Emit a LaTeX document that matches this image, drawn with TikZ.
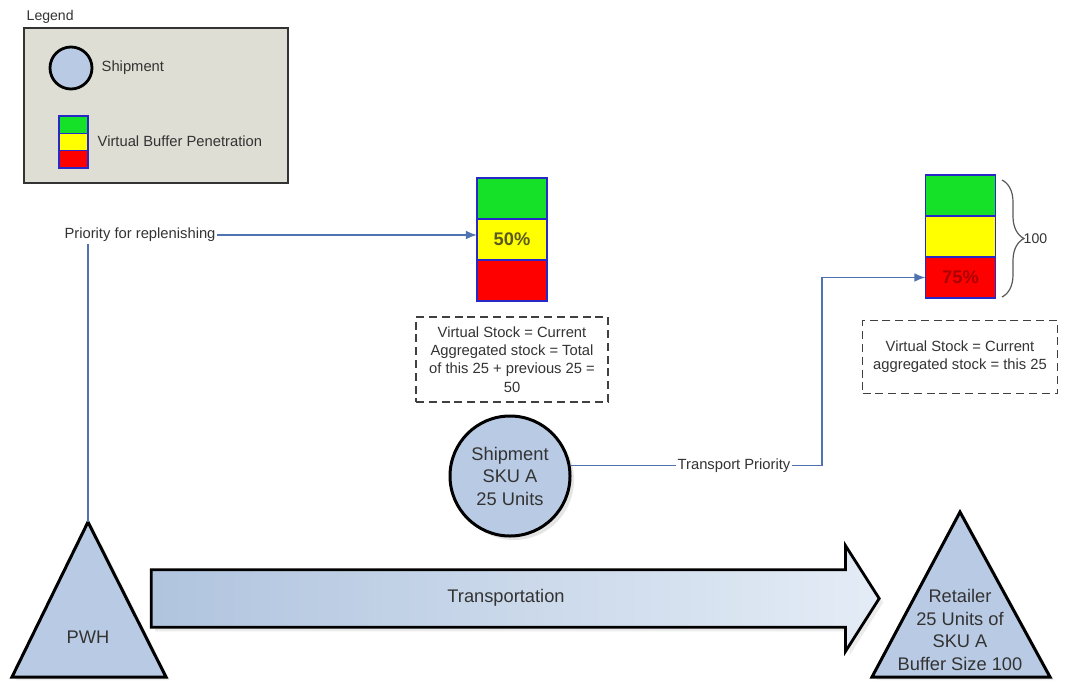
\documentclass[tikz,border=0pt]{standalone}
\usepackage{fontspec}
\setmainfont{Liberation Sans}
\usetikzlibrary{positioning, chains, shapes.arrows, shadows}
\usetikzlibrary{decorations.pathreplacing}
\usetikzlibrary{arrows.meta}
\tikzset{>={Latex[width=2.2mm,length=2.8mm]}}
\definecolor{bufgreen}{RGB}{20,225,40}
\definecolor{bufyellow}{RGB}{255,255,0}
\definecolor{bufred}{RGB}{255,0,0}
\definecolor{bufline}{RGB}{40,40,200}
\definecolor{linkblue}{RGB}{79,115,175}
\definecolor{shipblue}{RGB}{185,203,228}
\definecolor{legendgrey}{RGB}{222,222,212}
\definecolor{pctolive}{RGB}{90,90,30}
\definecolor{pctred}{RGB}{170,0,0}
\definecolor{arrowleft}{RGB}{176,196,222}
\definecolor{arrowright}{RGB}{228,236,246}

\begin{document}
\begin{tikzpicture}[
    x = 0.25mm, y = -0.25mm,
    node distance = 0mm,
    txt/.style = {font=\fontsize{10.5}{13}\selectfont, text=black!80, inner sep=1pt},
    big/.style = {font=\fontsize{13}{16}\selectfont, text=black!80, align=center},
    pct/.style = {font=\fontsize{13}{16}\selectfont\bfseries},
    cell/.style = {draw=bufline, line width=0.45mm, minimum width=17.5mm,
        minimum height=10.25mm, inner sep=0mm, outer sep=0mm, on chain},
    mini/.style = {cell, minimum width=7.25mm, minimum height=4.33mm, line width=0.35mm},
    link/.style = {draw=linkblue, line width=0.4mm},
    note/.style = {draw=black!75, line width=0.35mm, dash pattern=on 2mm off 1.2mm,
        txt, align=center, inner sep=0mm},
    tri/.style = {draw=black, line width=0.75mm, fill=shipblue, line join=miter,
        drop shadow={opacity=0.15, shadow xshift=1mm, shadow yshift=-0.8mm}}
  ]
  \path[use as bounding box, fill=white] (0,0) rectangle (1065,688);

  % legend
  \node[txt, font=\fontsize{10}{12}\selectfont, anchor=west] (legendlbl) at (25,17) {Legend};
  \node[draw=black!80, line width=0.5mm, fill=legendgrey, minimum width=66mm,
    minimum height=38.75mm] (legend) at (156,105.5) {};
  \node[circle, draw=black, line width=0.7mm, fill=shipblue, minimum size=10.5mm] (legship) at (71,68) {};
  \node[txt, anchor=west] (legshiplbl) at (100,68) {Shipment};
  \begin{scope}[shift={(73.5,124.7)}, start chain=leg going below]
    \foreach \c in {bufgreen, bufyellow, bufred}
    \node[mini, fill=\c] {};
  \end{scope}
  \node[txt, anchor=west] (legbuflbl) at (96,141) {Virtual Buffer Penetration};

  % buffers
  \begin{scope}[shift={(512,198.5)}, start chain=mid going below]
    \foreach \c in {bufgreen, bufyellow, bufred}
    \node[cell, fill=\c] {};
  \end{scope}
  \node[pct, text=pctolive] (midpct) at (mid-2) {50\%};
  \node[note, minimum width=48mm, minimum height=21.25mm] (midnote) at (512,359.5)
    {Virtual Stock = Current\\Aggregated stock = Total\\of this 25 + previous 25 =\\50};

  \begin{scope}[shift={(960.5,195.5)}, start chain=ret going below]
    \foreach \c in {bufgreen, bufyellow, bufred}
    \node[cell, fill=\c] {};
  \end{scope}
  \node[pct, text=pctred] (retpct) at (ret-3) {75\%};
  \draw[decorate, decoration={brace, amplitude=5.5mm}, draw=black!65, line width=0.3mm]
    (1002,180) -- (1002,297);
  \node[txt, font=\fontsize{10}{12}\selectfont, anchor=west] (hundred) at (1022,238.5) {100};
  \node[note, minimum width=48.75mm, minimum height=18.25mm] (retnote) at (960,357)
    {Virtual Stock = Current\\aggregated stock = this 25};

  % shipment, sites and transport
  \node[circle, draw=black, line width=0.75mm, fill=shipblue, minimum size=30mm, big,
    drop shadow={opacity=0.2, shadow xshift=1mm, shadow yshift=-1mm}] (ship) at (510,476)
    {Shipment\\SKU A\\25 Units};

  \coordinate (pwhtop) at (88,522);
  \draw[tri] (pwhtop) -- (166,677) -- (12,677) -- cycle;
  \node[big] (pwh) at (88,637) {PWH};

  \coordinate (rettop) at (960,512);
  \draw[tri] (rettop) -- (1050,677) -- (872,677) -- cycle;
  \node[big] (retailer) at (960,630) {Retailer\\25 Units of\\SKU A\\Buffer Size 100};

  \node[single arrow, draw=black, line width=0.7mm, left color=arrowleft, right color=arrowright,
    minimum height=182mm, minimum width=25.75mm, single arrow head extend=6mm,
    single arrow head indent=0mm, single arrow tip angle=115, big,
    text height=3.2mm, text depth=1mm, inner ysep=4.75mm,
    drop shadow={opacity=0.15, shadow xshift=1mm, shadow yshift=-1mm}] (transp) at (506,598.5) {Transportation};

  % priorities
  \node[txt] (prio) at (140,235) {Priority for replenishing};
  \draw[link, ->] (prio.east) -- (prio.east -| mid-2.west);
  \draw[link] (prio.south -| pwhtop) -- (pwhtop);
  \coordinate (bend) at (822,280);
  \draw[link, ->] (ship.10) -- node[pos=0.65, fill=white, txt] {Transport Priority}
    (ship.10 -| bend) |- (ret-3.west);
\end{tikzpicture}
\end{document}
